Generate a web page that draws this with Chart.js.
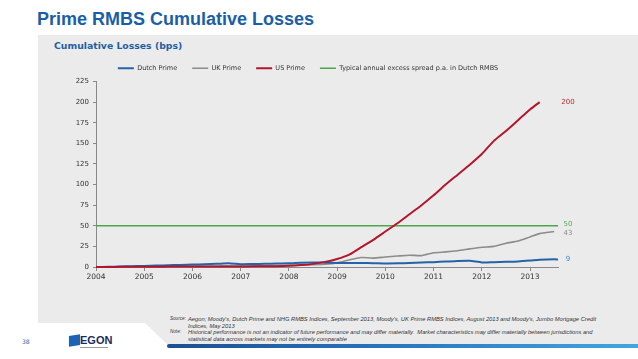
<!DOCTYPE html>
<html>
<head>
<meta charset="utf-8">
<script src="https://cdn.jsdelivr.net/npm/chart.js@4.4.1/dist/chart.umd.min.js"></script>
<style>
  html, body { margin: 0; padding: 0; }
  body { width: 638px; height: 359px; position: relative; overflow: hidden; background: #fff; font-family: "DejaVu Sans", Verdana, sans-serif; }
  #panel { position: absolute; left: 38px; top: 35px; width: 600px; height: 312px; background: #ebebeb;
           clip-path: polygon(0 0, 600px 0, 600px 312px, 132px 312px, 107px 288px, 0 288px); }
  #title { position: absolute; left: 37px; top: 10px; font: bold 18px/18px "Liberation Sans", Arial, sans-serif; color: #1b5ea8; white-space: nowrap; }
  #subtitle { position: absolute; left: 54px; top: 40px; font: bold 9.3px/11px "DejaVu Sans", Verdana, sans-serif; color: #1f5fa3; white-space: nowrap; }
  #chart { position: absolute; left: 38px; top: 50px; }
  #notes { position: absolute; left: 170px; top: 316px; font: italic 5.75px/6.5px "Liberation Sans", Arial, sans-serif; color: #333; }
  #notes .row { display: flex; white-space: nowrap; }
  #notes .lbl { width: 18px; flex: none; font-size: 4.6px; }
  #bar { position: absolute; left: 167px; top: 344px; width: 471px; height: 4px; border-radius: 3px 0 0 3px;
         background: linear-gradient(to right, #1b4f92, #2a78c2 50%, #43a6df); }
  #page { position: absolute; left: 22px; top: 338px; font: 6px/8px "DejaVu Sans", sans-serif; color: #2f6db5; }
  #logoMark { position: absolute; left: 69px; top: 335px; width: 11px; height: 11px; background: #1c63b7; transform: skewX(-10deg) rotate(-10deg); }
  #logoText { position: absolute; left: 80px; top: 334px; font: bold 11px/12px "Liberation Sans", Arial, sans-serif; color: #1a2d5c; }
  #logoLine { position: absolute; left: 80px; top: 347px; width: 28px; height: 1px; background: #999; }
</style>
</head>
<body>
<div id="panel"></div>
<div id="title">Prime RMBS Cumulative Losses</div>
<div id="subtitle">Cumulative Losses (bps)</div>
<canvas id="chart" width="600" height="240"></canvas>
<div id="notes">
  <div class="row"><span class="lbl">Source:</span><span>Aegon; Moody's, Dutch Prime and NHG RMBS Indices, September 2013, Moody's, UK Prime RMBS Indices, August 2013 and Moody's, Jumbo Mortgage Credit<br>Indices, May 2013</span></div>
  <div class="row"><span class="lbl">Note:</span><span>Historical performance is not an indicator of future performance and may differ materially.&nbsp; Market characteristics may differ materially between jurisdictions and<br>statistical data across markets may not be entirely comparable</span></div>
</div>
<div id="bar"></div>
<div id="page">38</div>
<div id="logoMark"></div>
<div id="logoText">EGON</div>
<div id="logoLine"></div>

<script>
// quarterly observations (decimal years)
var periods = [2004, 2004.25, 2004.5, 2004.75, 2005, 2005.25, 2005.5, 2005.75,
               2006, 2006.25, 2006.5, 2006.75, 2007, 2007.25, 2007.5, 2007.75,
               2008, 2008.25, 2008.5, 2008.75, 2009, 2009.25, 2009.5, 2009.75,
               2010, 2010.25, 2010.5, 2010.75, 2011, 2011.25, 2011.5, 2011.75,
               2012, 2012.25, 2012.5, 2012.75, 2013, 2013.2, 2013.5, 2013.58];

var dutchPrime = [0, 0.3, 0.6, 1.0, 1.3, 1.7, 2.1, 2.5, 2.9, 3.3, 3.8, 4.6, 3.4, 3.6, 3.9, 4.1,
                  4.4, 5.2, 5.6, 5.3, 5.0, 4.9, 4.8, 4.6, 4.3, 4.5, 4.9, 5.4, 5.9, 6.6, 7.3, 7.5,
                  5.6, 5.9, 6.3, 6.8, 7.8, 8.8, 9.3, 9.0];
var ukPrime = [0, 0.1, 0.2, 0.3, 0.4, 0.5, 0.6, 0.7, 0.8, 0.9, 1.0, 1.1, 1.2, 1.3, 1.5, 1.7,
               2.0, 2.3, 2.7, 3.3, 5.0, 8.5, 11.5, 10.8, 12.2, 13.3, 14.3, 13.8, 17.2, 18.3, 19.8, 22.0,
               24.0, 25.0, 28.8, 31.5, 36.5, 40.5, 43.0, null];
var usPrime = [0, 0.1, 0.2, 0.3, 0.4, 0.4, 0.5, 0.5, 0.5, 0.6, 0.6, 0.7, 0.7, 0.8, 0.9, 1.0,
               1.4, 2.3, 3.8, 6.2, 9.7, 15, 24, 33, 43, 53, 64, 75, 87, 100, 112, 124,
               137, 153, 165, 178, 191, 200, null, null];

var spreadPeriods = [2004, 2013.58];
var excessSpread = [50, 50];

var seriesNames = ["Dutch Prime", "UK Prime", "US Prime", "Typical annual excess spread p.a. in Dutch RMBS"];
var yTicks = [0, 25, 50, 75, 100, 125, 150, 175, 200, 225];

function toPoints(xs, ys) {
    return xs.map(function(x, i) { return { x: x, y: ys[i] }; });
}

// value labels to the right of the plot
var endLabels = {
    id: 'endLabels',
    afterDatasetsDraw: function(chart) {
        var ctx = chart.ctx, area = chart.chartArea, y = chart.scales.y;
        var nudge = [0, 1.5, 0.5, -2];
        var colors = ['#4a86c8', '#8a8a8a', '#c0283a', '#4caf50'];
        ctx.save();
        ctx.font = '7px "DejaVu Sans"';
        ctx.textAlign = 'center';
        ctx.textBaseline = 'middle';
        chart.data.datasets.forEach(function(ds, i) {
            var pts = ds.data.filter(function(p) { return p.y != null; });
            var last = pts[pts.length - 1].y;
            ctx.fillStyle = colors[i];
            ctx.fillText(String(Math.round(last)), area.right + 10, y.getPixelForValue(last) + nudge[i]);
        });
        ctx.restore();
    }
};

Chart.defaults.font.family = '"DejaVu Sans", Verdana, sans-serif';
Chart.defaults.color = '#333';

var ctx = document.getElementById('chart').getContext('2d');
var lossChart = new Chart(ctx, {
    type: 'line',
    data: {
        datasets: [{
            label: seriesNames[0],
            data: toPoints(periods, dutchPrime),
            borderColor: '#2463a8',
            backgroundColor: '#2463a8',
            borderWidth: 2,
            order: 2
        }, {
            label: seriesNames[1],
            data: toPoints(periods, ukPrime),
            borderColor: '#8c8c8c',
            backgroundColor: '#8c8c8c',
            borderWidth: 1.6,
            order: 3
        }, {
            label: seriesNames[2],
            data: toPoints(periods, usPrime),
            borderColor: '#b3162c',
            backgroundColor: '#b3162c',
            borderWidth: 2,
            order: 1
        }, {
            label: seriesNames[3],
            data: toPoints(spreadPeriods, excessSpread),
            borderColor: '#4aa84a',
            backgroundColor: '#4aa84a',
            borderWidth: 1.6,
            order: 4
        }]
    },
    options: {
        responsive: false,
        animation: false,
        layout: { padding: { left: 20, right: 80, top: 0, bottom: 3 } },
        elements: {
            point: { radius: 0 },
            line: { tension: 0.2 }
        },
        datasets: { line: { clip: false, spanGaps: false } },
        plugins: {
            tooltip: { enabled: false },
            legend: {
                labels: {
                    usePointStyle: true,
                    pointStyle: 'line',
                    pointStyleWidth: 16,
                    padding: 15,
                    color: '#333',
                    font: { size: 6.5 },
                    sort: function(a, b) { return a.datasetIndex - b.datasetIndex; }
                }
            }
        },
        scales: {
            x: {
                type: 'linear',
                min: 2004,
                max: 2013.58,
                afterFit: function(scale) { scale.height = 20; },
                grid: { drawOnChartArea: false, tickLength: 4, color: '#888' },
                border: { color: '#888' },
                ticks: {
                    stepSize: 1,
                    includeBounds: false,
                    maxRotation: 0,
                    padding: 2,
                    font: { size: 7.5 },
                    callback: function(v) { return String(v); }
                }
            },
            y: {
                min: 0,
                max: 225,
                afterFit: function(scale) { scale.width = 38; },
                afterBuildTicks: function(scale) {
                    scale.ticks = yTicks.map(function(v) { return { value: v }; });
                },
                grid: { drawOnChartArea: false, tickLength: 3, color: '#888' },
                border: { color: '#888' },
                ticks: { padding: 4, font: { size: 7 } }
            }
        }
    },
    plugins: [endLabels]
});
</script>
</body>
</html>
